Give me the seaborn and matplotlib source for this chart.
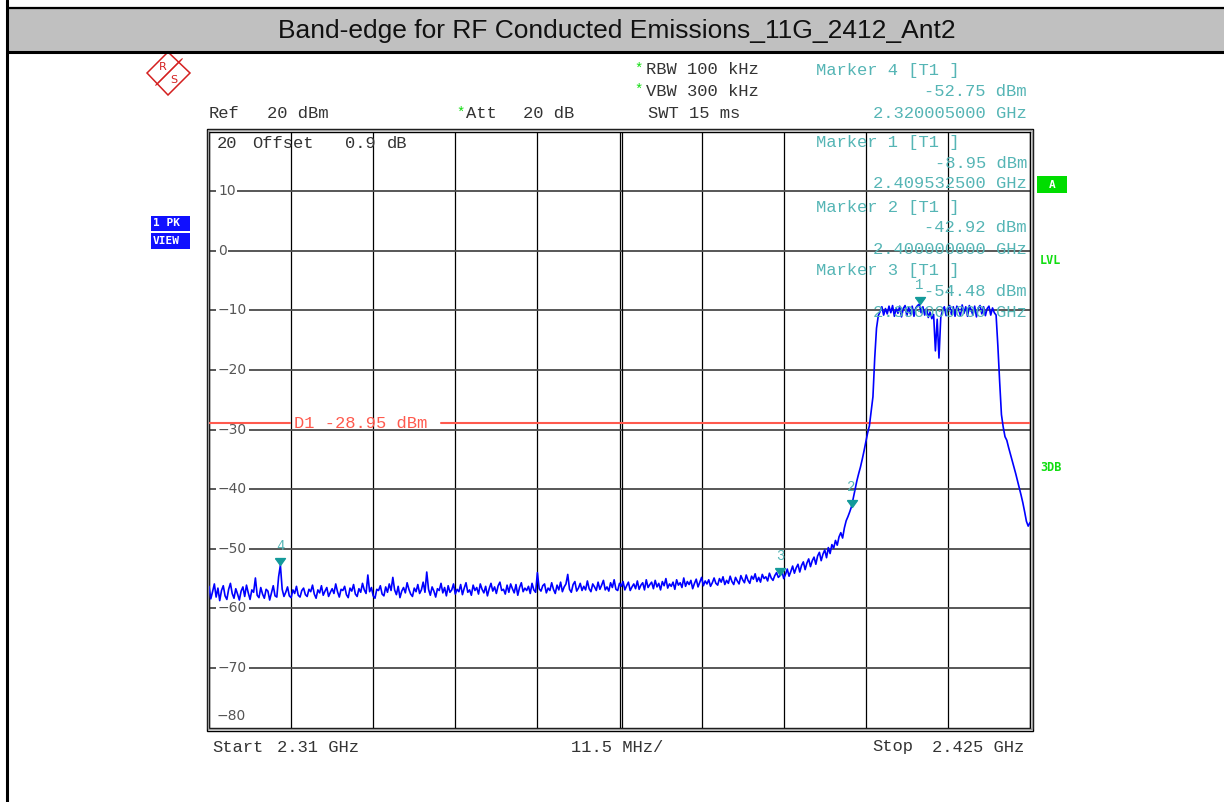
import numpy as np
import pandas as pd
import matplotlib
matplotlib.use("Agg")
import matplotlib.pyplot as plt
import matplotlib.transforms as mtransforms
from matplotlib.patches import Rectangle, Polygon
from matplotlib.lines import Line2D
import seaborn as sns

# sweep settings (GHz)
f_start = 2.310
f_stop = 2.425
f_div = 0.0115

# trace 1, peak detector, dBm - one reading every 0.25 MHz
level = [
    -56.3, -58.4, -57.2, -55.9, -58.1, -56.6, -58.7, -57.0, -56.2, -57.9, -58.5, -56.8, -55.8, -57.5, -58.3, -56.7, -57.6, -58.6, -57.1, -56.4,
    -58.0, -56.1, -57.4, -58.5, -56.9, -57.3, -54.9, -57.8, -58.2, -56.5, -57.6, -58.3, -56.8, -57.1, -58.6, -57.4, -56.2, -57.9, -58.1, -54.7,
    -52.75, -56.8, -58.0, -57.3, -56.4, -57.9, -58.2, -56.9, -57.5, -56.3, -57.8, -58.1, -57.0, -56.6, -57.7, -58.0, -56.8, -57.2, -56.1, -57.6,
    -58.3, -56.9, -57.4, -56.2, -57.8, -57.1, -56.5, -58.0, -57.3, -56.7, -57.5, -55.9, -57.2, -58.1, -56.8, -57.0, -56.3, -57.7, -58.2, -56.6,
    -57.1, -56.0, -57.6, -58.0, -56.7, -57.3, -55.8, -56.9, -57.5, -54.4, -57.2, -56.5, -57.9, -58.3, -56.8, -57.0, -56.2, -57.6, -57.9, -56.4,
    -57.3, -55.9, -57.0, -54.8, -56.9, -57.7, -56.3, -58.2, -57.1, -56.5, -57.4, -55.7, -56.8, -57.6, -58.0, -56.6, -57.2, -56.0, -57.5, -56.9,
    -55.6, -57.3, -53.9, -56.8, -57.8, -56.4, -57.1, -58.1, -56.7, -57.0, -55.8, -57.4, -56.5, -57.9, -56.2, -57.3, -56.9, -55.9, -57.6, -56.8,
    -57.2, -56.0, -57.7, -56.6, -55.7, -57.3, -56.9, -57.8, -56.1, -57.0, -56.5, -57.6, -55.9, -56.8, -57.4, -56.3, -57.9, -56.7, -55.8, -57.1,
    -56.4, -57.5, -56.2, -55.6, -57.0, -56.8, -57.6, -56.1, -57.3, -55.9, -56.7, -57.4, -56.0, -57.8, -56.5, -55.7, -57.2, -56.6, -57.0, -56.3,
    -57.5, -55.8, -56.9, -57.3, -54.0, -56.7, -57.1, -56.2, -55.9, -57.4, -56.6, -57.0, -55.7, -56.8, -57.5, -56.1, -56.9, -55.6, -57.2, -56.4,
    -55.9, -54.3, -56.8, -57.3, -56.0, -55.5, -57.1, -56.6, -55.8, -57.0, -56.3, -56.9, -55.4, -56.7, -57.2, -55.9, -56.4, -57.0, -55.6, -56.8,
    -56.1, -55.3, -56.9, -56.4, -57.1, -55.7, -56.5, -55.2, -56.8, -57.0, -55.8, -56.3, -55.5, -56.9, -56.2, -55.6, -57.0, -56.4, -55.9, -56.7,
    -55.4, -56.8, -56.1, -55.7, -56.9, -55.2, -56.5, -56.0, -55.6, -56.7, -55.3, -56.4, -55.8, -56.9, -55.5, -56.2, -55.0, -56.6, -55.9, -56.3,
    -55.6, -56.8, -55.2, -56.1, -55.7, -56.5, -54.9, -56.3, -55.5, -56.0, -55.3, -56.7, -55.8, -55.1, -56.4, -55.6, -54.8, -56.2, -55.4, -55.9,
    -55.2, -56.3, -55.7, -54.9, -55.8, -56.1, -55.0, -55.6, -54.7, -56.0, -55.3, -55.8, -54.6, -55.5, -56.0, -54.8, -55.4, -55.9, -54.5, -55.2,
    -55.7, -54.4, -55.3, -55.8, -54.6, -55.1, -54.2, -55.5, -54.8, -55.6, -54.3, -55.0, -54.7, -55.4, -54.1, -54.9, -55.3, -54.5, -54.0, -54.8,
    -54.48, -53.7, -55.0, -54.3, -53.4, -54.6, -53.8, -52.9, -54.1, -53.2, -52.6, -53.9, -52.8, -52.2, -53.5, -52.4, -51.7, -53.0, -52.0, -51.4,
    -52.6, -51.2, -50.6, -52.0, -50.9, -50.2, -51.5, -49.8, -50.8, -49.3, -49.9, -48.6, -49.4, -48.0, -47.3, -48.2, -46.5, -45.3, -44.6, -43.8,
    -42.92, -41.5, -40.0, -38.6, -37.4, -36.3, -35.0, -33.6, -32.1, -30.6, -29.4, -27.0, -24.5, -18.0, -13.0, -10.9, -10.2, -9.4, -10.8, -9.7,
    -10.6, -9.3, -10.4, -9.2, -11.0, -9.6, -10.5, -9.3, -11.1, -9.7, -9.2, -10.9, -9.5, -10.6, -9.3, -11.0, -9.6, -9.2, -8.95, -10.4,
    -9.4, -10.8, -9.7, -11.2, -10.3, -11.4, -10.7, -16.8, -11.5, -18.0, -11.2, -10.0, -9.4, -10.9, -9.6, -9.2, -10.7, -9.4, -11.0, -9.3,
    -9.8, -10.9, -9.1, -10.5, -9.4, -11.0, -9.2, -9.9, -10.8, -9.3, -11.1, -9.6, -9.2, -10.6, -9.4, -10.9, -9.7, -9.3, -10.8, -9.6,
    -10.4, -10.8, -16.0, -22.0, -27.5, -29.6, -31.2, -31.8, -33.0, -34.1, -35.2, -36.3, -37.4, -38.6, -39.8, -41.0, -42.3, -43.8, -45.4, -46.2, -45.6,
]
freq = np.linspace(f_start, f_stop, len(level))

marker_no = [1, 2, 3, 4]
marker_freq = [2.4095325, 2.400000, 2.390000, 2.320005]
marker_level = [-8.95, -42.92, -54.48, -52.75]
d1_level = -28.95
y_ticks = [10, 0, -10, -20, -30, -40, -50, -60, -70]

df = pd.DataFrame({"freq": freq, "level": level})

sns.set_style("white")
plt.rcParams["font.family"] = ["DejaVu Sans"]

W, H = 1224, 802
fig = plt.figure(figsize=(W / 100, H / 100), dpi=100)

def fx(x):
    return x / W

def fy(y):
    return 1 - y / H

TEAL = "#55b5b5"
GREEN = "#11dd11"
TXT = "#333333"
RED = "#ff5a4e"
MONO = 12.3

def mono(x, y, s, color=TXT, ha="left", size=MONO, **kw):
    fig.text(fx(x), fy(y), s, ha=ha, va="center", fontsize=size,
             family="Liberation Mono", color=color, **kw)

# ---- header band and page border
fig.add_artist(Rectangle((fx(8), fy(51)), 1, (51 - 8) / H, transform=fig.transFigure,
                         facecolor="#c0c0c0", edgecolor="none"))
fig.add_artist(Line2D([fx(8), 1], [fy(8), fy(8)], color="black", lw=1.6))
fig.add_artist(Line2D([fx(8), 1], [fy(51.5), fy(51.5)], color="black", lw=2.2))
fig.add_artist(Line2D([fx(6.5), fx(6.5)], [0, 1], color="black", lw=2.2))
fig.text(fx(617), fy(31), "Band-edge for RF Conducted Emissions_11G_2412_Ant2",
         ha="center", va="center", fontsize=19,
         family=["Liberation Sans Narrow", "Liberation Sans"], color="#111111")

# ---- R&S logo
fig.add_artist(Polygon([(fx(147), fy(73)), (fx(168), fy(52)), (fx(190), fy(73)), (fx(168), fy(95))],
                       closed=True, fill=False, edgecolor="#d42020", lw=1.1, transform=fig.transFigure))
for d in (-1.3, 0, 1.3):
    fig.add_artist(Line2D([fx(181 + d), fx(157 + d)], [fy(60 - d), fy(84 - d)], color="#d42020", lw=0.8))
fig.text(fx(163), fy(67), "R", color="#d42020", fontsize=8, ha="center", va="center")
fig.text(fx(174), fy(80), "S", color="#d42020", fontsize=8, ha="center", va="center")

# ---- side labels
for y0, y1, s in [(216, 231, "1 PK"), (233, 249, "VIEW")]:
    fig.add_artist(Rectangle((fx(151), fy(y1)), 39 / W, (y1 - y0) / H, transform=fig.transFigure,
                             facecolor="#1010ff", edgecolor="none"))
    fig.text(fx(153), fy((y0 + y1) / 2), s, color="white", fontsize=8, fontweight="bold",
             family="DejaVu Sans Mono", ha="left", va="center")
fig.add_artist(Rectangle((fx(1037), fy(193)), 30 / W, 17 / H, transform=fig.transFigure,
                         facecolor="#00dd00", edgecolor="none"))
fig.text(fx(1052), fy(184.5), "A", color="white", fontsize=8, fontweight="bold",
         family="DejaVu Sans Mono", ha="center", va="center")
fig.text(fx(1040), fy(261), "LVL", color=GREEN, fontsize=8.5, fontweight="bold",
         family="DejaVu Sans Mono", ha="left", va="center")
fig.text(fx(1040), fy(468), "3DB", color=GREEN, fontsize=8.5, fontweight="bold",
         family="DejaVu Sans Mono", ha="left", va="center")

# ---- instrument settings
mono(634, 69, "*", color=GREEN, size=10)
mono(646, 70, "RBW 100 kHz")
mono(634, 90, "*", color=GREEN, size=10)
mono(646, 91, "VBW 300 kHz")
mono(209, 114, "Ref")
mono(267, 114, "20 dBm")
mono(456, 113, "*", color=GREEN, size=10)
mono(466, 114, "Att")
mono(523, 114, "20 dB")
mono(648, 114, "SWT 15 ms")

# marker readouts
rows = {4: (70, 91, 114), 1: (143, 164, 184), 2: (207, 228, 249), 3: (271, 292, 313)}
for n, f, lv in zip(marker_no, marker_freq, marker_level):
    r = rows[n]
    mono(816, r[0], f"Marker {n} [T1 ]", color=TEAL, zorder=1)
    mono(1027, r[1], f"{lv:.2f} dBm", color=TEAL, ha="right", zorder=1)
    mono(1027, r[2], f"{f:.9f} GHz", color=TEAL, ha="right", zorder=1)

# ---- plot area
ax = fig.add_axes([fx(209), fy(727.6), 821 / W, 596.1 / H])
ax.set_facecolor("none")
sns.lineplot(data=df, x="freq", y="level", ax=ax, color="#0000ff", linewidth=1.2,
             estimator=None, zorder=5)
ax.set_xlim(f_start, f_stop)
ax.set_ylim(-80, 20)
x_grid = [f_start + k * f_div for k in range(11)]
ax.set_xticks(x_grid)
ax.set_yticks(y_ticks)
ax.tick_params(length=0, labelbottom=False, labelleft=False)
ax.set_xlabel("")
ax.set_ylabel("")
ax.grid(True, axis="x", color="black", lw=0.9)
ax.grid(True, axis="y", color="#4a4a4a", lw=1.3)
ax.set_axisbelow(True)
for sp in ax.spines.values():
    sp.set_color("black")
    sp.set_linewidth(1.0)
# double centre line
tr = mtransforms.offset_copy(ax.get_xaxis_transform(), fig=fig, x=2, y=0, units="dots")
ax.plot([x_grid[5], x_grid[5]], [0, 1], transform=tr, color="black", lw=0.9, zorder=1)
# double frame
fig.add_artist(Rectangle((fx(206.5), fy(730.5)), 826.5 / W, 601.5 / H, transform=fig.transFigure,
                         fill=False, edgecolor="black", lw=1.0))
fig.add_artist(Rectangle((fx(207.8), fy(729.2)), 823.8 / W, 598.9 / H, transform=fig.transFigure,
                         fill=False, edgecolor="#9a9a9a", lw=1.0))

# y labels inside the grid
ylab = ax.get_yaxis_transform()
for v in y_ticks:
    ax.text(0.011, v, str(v).replace("-", "\u2212"), transform=ylab, ha="left", va="center",
            fontsize=10, color="#555555", zorder=3,
            bbox=dict(facecolor="white", edgecolor="none", pad=1.2))
fig.text(fx(217), fy(716), "\u221280", fontsize=10, color="#555555", ha="left", va="center")
mono(217, 144, "20")
mono(252, 144, "Offset")
mono(345, 144, "0.9")
mono(387, 144, "dB")

# display line D1
ax.axhline(d1_level, xmin=0, xmax=0.099, color=RED, lw=1.5, zorder=4)
ax.axhline(d1_level, xmin=0.283, xmax=1, color=RED, lw=1.5, zorder=4)
ax.text(0.103, d1_level, f"D1 {d1_level:.2f} dBm", transform=ylab, ha="left", va="center",
        fontsize=MONO, family="Liberation Mono", color=RED, zorder=4)

# markers
tri = [(-0.5, 0.7), (0.5, 0.7), (0, 0), (-0.5, 0.7)]
ax.plot(marker_freq, marker_level, ls="none", marker=tri, ms=10, color="#139a9a",
        mec="#139a9a", zorder=6)
for n, f, lv in zip(marker_no, marker_freq, marker_level):
    ax.annotate(str(n), (f, lv), xytext=(0, 14), textcoords="offset points", ha="center",
                va="center", fontsize=10, color=TEAL, family="Liberation Mono", zorder=6)

# bottom scale
mono(212, 747, "Start")
mono(277, 747, "2.31 GHz")
mono(571, 747, "11.5 MHz/")
mono(872, 747, "Stop")
mono(1024, 747, "2.425 GHz", ha="right")

fig.savefig("out.png", dpi=100, facecolor="white")
